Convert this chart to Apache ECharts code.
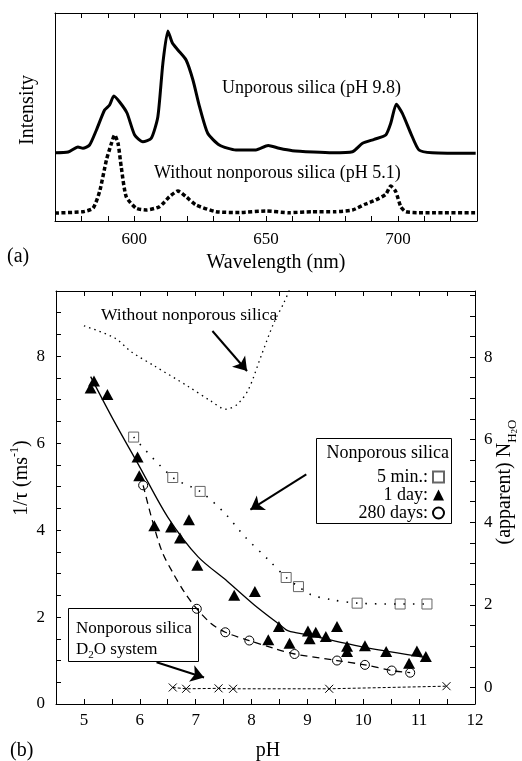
<!DOCTYPE html>
<html><head><meta charset="utf-8">
<script src="https://cdn.jsdelivr.net/npm/echarts@6/dist/echarts.min.js"></script>
<style>html,body{margin:0;padding:0;background:#fff}#c{width:522px;height:761px}</style>
</head><body><div id="c"></div>
<script>
const FONT = '"Liberation Serif", "Times New Roman", serif';

// ---------- panel (a): emission spectra ----------
const unporousWl  = [570, 575, 578.7, 580.6, 583.1, 585.7, 588.8, 590.7, 592.3, 594.5, 597.3, 600.2, 603.3, 606.5, 609.0, 610.9, 612.8, 614.5, 616.6, 619.7, 622.3, 624.8, 627.9, 632.3, 638.6, 646.2, 650.8, 655.0, 660.0, 668.0, 675.2, 682.8, 686.6, 691.0, 695.4, 697.3, 699.4, 701.7, 704.9, 708.0, 713.0, 729.5];
const unporousInt = [68.3, 69, 74, 72.7, 76, 91, 111, 116, 125, 119, 108, 86, 79.3, 82.7, 104.3, 157.7, 190, 178, 171, 161, 141, 114.3, 87.7, 76, 71, 71, 75.5, 72.7, 70.3, 69, 68.3, 69.3, 77.7, 81.7, 86, 97.7, 116.7, 107.7, 87.7, 71, 68.3, 67.7];
const noSilicaWl  = [570, 580.6, 584.4, 586.9, 589.5, 591.4, 592.6, 593.9, 595.1, 597.0, 600.8, 604.6, 609.6, 613.4, 616.6, 619.7, 623.5, 631.1, 640, 650, 658.8, 667.6, 676, 682.8, 687.8, 691.6, 695.4, 697.3, 699.2, 701.1, 703.0, 708, 713, 729.5];
const noSilicaInt = [8, 9.3, 12.7, 29.3, 61, 77.7, 86, 77.7, 54.3, 24.3, 12.7, 11, 14.3, 24.3, 30, 24.3, 16, 9.3, 8.5, 10, 8.3, 9.3, 9.3, 11, 17, 21, 26.7, 35, 29.3, 14.3, 9.3, 8.3, 8.3, 8.3];
const wlTickLabels = [600, 650, 700];

// ---------- panel (b): 1/tau vs pH ----------
const withoutPH   = [5.0, 5.55, 5.85, 6.27, 6.86, 7.27, 7.54, 7.75, 7.95, 8.17, 8.40, 8.58, 8.72];
const withoutRate = [8.70, 8.42, 8.10, 7.77, 7.31, 6.97, 6.78, 6.90, 7.25, 8.0, 8.77, 9.23, 9.65];

const min5PH   = [5.89, 6.59, 7.08, 8.62, 8.84, 9.89, 10.66, 11.14];
const min5Rate = [6.14, 5.21, 4.89, 2.91, 2.70, 2.32, 2.30, 2.30];
const min5FitPH   = [5.89, 6.59, 7.08, 7.52, 7.88, 8.30, 8.62, 8.84, 9.07, 9.43, 9.89, 10.66, 11.14];
const min5FitRate = [6.14, 5.21, 4.89, 4.39, 3.85, 3.32, 2.91, 2.70, 2.51, 2.40, 2.32, 2.30, 2.30];

const day1PH   = [5.12, 5.18, 5.42, 5.96, 5.99, 6.26, 6.56, 6.72, 6.88, 7.03, 7.69, 8.06, 8.30, 8.49, 8.68, 9.01, 9.04, 9.15, 9.33, 9.53, 9.71, 9.71, 10.03, 10.41, 10.82, 10.96, 11.12];
const day1Rate = [7.27, 7.43, 7.12, 5.68, 5.25, 4.10, 4.07, 3.82, 4.24, 3.19, 2.50, 2.59, 1.48, 1.78, 1.40, 1.68, 1.50, 1.65, 1.55, 1.78, 1.33, 1.21, 1.34, 1.21, 0.94, 1.22, 1.09];
const day1FitPH   = [5.12, 5.5, 6.0, 6.5, 7.04, 7.57, 8.05, 8.51, 8.66, 9.01, 10.03, 11.12];
const day1FitRate = [7.53, 6.6, 5.45, 4.3, 3.39, 2.82, 2.28, 1.82, 1.68, 1.59, 1.30, 1.07];

const day280PH   = [6.06, 7.02, 7.53, 7.96, 8.77, 9.53, 10.03, 10.51, 10.84];
const day280Rate = [5.03, 2.19, 1.65, 1.46, 1.15, 1.00, 0.90, 0.77, 0.72];
const day280FitPH   = [6.06, 6.22, 6.40, 6.60, 6.81, 7.02, 7.27, 7.53, 7.96, 8.40, 8.77, 9.53, 10.03, 10.51, 10.84];
const day280FitRate = [5.03, 4.24, 3.50, 3.00, 2.55, 2.19, 1.86, 1.65, 1.46, 1.28, 1.15, 1.00, 0.90, 0.77, 0.72];

const d2oPH   = [6.59, 6.83, 7.41, 7.67, 9.39, 11.49];
const d2oRate = [0.38, 0.35, 0.36, 0.35, 0.35, 0.41];

const phTickLabels   = [5, 6, 7, 8, 9, 10, 11, 12];
const rateTickLabels = [0, 2, 4, 6, 8];
const nh2oTickLabels = [0, 2, 4, 6, 8];

const zip = (a, b) => a.map((v, i) => [v, b[i]]);
const BLACK = '#000';
const lineSt = { onZero: false, lineStyle: { color: BLACK, width: 1 } };
const lbl = (extra) => Object.assign({ color: BLACK, fontFamily: FONT, fontSize: 17 }, extra);

const nh2oTicks = [];
for (let v = 0; v <= 9.5 + 1e-9; v += 0.5) nh2oTicks.push(+v.toFixed(1));

const chart = echarts.init(document.getElementById('c'), null, { renderer: 'canvas' });

const arrowML = (from, to) => ({
  silent: true, symbol: ['none', 'arrow'], symbolSize: 13, animation: false,
  label: { show: false }, emphasis: { disabled: true },
  itemStyle: { color: BLACK },
  lineStyle: { color: BLACK, width: 2, type: 'solid' },
  data: [[{ coord: from }, { coord: to }]]
});

const option = {
  animation: false,
  backgroundColor: '#fff',
  grid: [
    { left: 55, right: 45, top: 13, bottom: 540 },
    { left: 56, right: 47, top: 291, bottom: 57 }
  ],
  xAxis: [
    { gridIndex: 0, type: 'value', min: 570, max: 730, interval: 10, position: 'bottom',
      axisLine: lineSt, axisTick: { inside: true, length: 5, lineStyle: { color: BLACK } },
      axisLabel: lbl({ interval: 0, margin: 10, formatter: v => wlTickLabels.includes(v) ? String(v) : '' }),
      splitLine: { show: false } },
    { gridIndex: 0, type: 'value', min: 570, max: 730, interval: 10, position: 'top',
      axisLine: lineSt, axisTick: { inside: true, length: 5, lineStyle: { color: BLACK } },
      axisLabel: { show: false }, splitLine: { show: false } },
    { gridIndex: 1, type: 'value', min: 4.5, max: 12, interval: 0.5, position: 'bottom',
      axisLine: lineSt, axisTick: { inside: true, length: 5, lineStyle: { color: BLACK } },
      axisLabel: lbl({ interval: 0, margin: 8, formatter: v => phTickLabels.includes(v) ? String(v) : '' }),
      splitLine: { show: false } },
    { gridIndex: 1, type: 'value', min: 4.5, max: 12, interval: 0.5, position: 'top',
      axisLine: lineSt, axisTick: { inside: true, length: 5, lineStyle: { color: BLACK } },
      axisLabel: { show: false }, splitLine: { show: false } }
  ],
  yAxis: [
    { gridIndex: 0, type: 'value', min: 0, max: 208, position: 'left',
      axisLine: { show: true, onZero: false, lineStyle: { color: BLACK, width: 1 } }, axisTick: { show: false },
      axisLabel: { show: false }, splitLine: { show: false } },
    { gridIndex: 0, type: 'value', min: 0, max: 208, position: 'right',
      axisLine: { show: true, onZero: false, lineStyle: { color: BLACK, width: 1 } }, axisTick: { show: false },
      axisLabel: { show: false }, splitLine: { show: false } },
    { gridIndex: 1, type: 'value', min: 0, max: 9.5, interval: 0.5, position: 'left',
      axisLine: { show: true, onZero: false, lineStyle: { color: BLACK, width: 1 } },
      axisTick: { inside: true, length: 5, lineStyle: { color: BLACK } },
      axisLabel: lbl({ interval: 0, margin: 11, formatter: v => rateTickLabels.includes(v) ? String(v) : '' }),
      splitLine: { show: false } },
    { gridIndex: 1, type: 'value', min: -0.4, max: 9.6, position: 'right',
      axisLine: { show: true, onZero: false, lineStyle: { color: BLACK, width: 1 } },
      axisTick: { inside: true, length: 5, lineStyle: { color: BLACK }, customValues: nh2oTicks },
      axisLabel: lbl({ margin: 9, customValues: nh2oTickLabels, formatter: v => String(v) }),
      splitLine: { show: false } }
  ],
  legend: {
    orient: 'vertical', align: 'right', right: 77, top: 468, padding: 0, z: 50,
    itemWidth: 11, itemHeight: 11, itemGap: 0, selectedMode: false,
    textStyle: { color: BLACK, fontFamily: FONT, fontSize: 18, lineHeight: 17 },
    data: [
      { name: '5 min.:' },
      { name: '1 day:' },
      { name: '280 days:', itemStyle: { borderWidth: 2 } }
    ]
  },
  series: [
    { name: 'Unporous silica (pH 9.8)', type: 'line', xAxisIndex: 0, yAxisIndex: 0,
      data: zip(unporousWl, unporousInt), symbol: 'none', smooth: 0.2,
      lineStyle: { color: BLACK, width: 3 } },
    { name: 'Without nonporous silica (pH 5.1)', type: 'line', xAxisIndex: 0, yAxisIndex: 0,
      data: zip(noSilicaWl, noSilicaInt), symbol: 'none', smooth: 0.2,
      lineStyle: { color: BLACK, width: 3.5, type: [4, 2.5] } },

    { name: 'without-fit', type: 'line', xAxisIndex: 2, yAxisIndex: 2, clip: true,
      data: zip(withoutPH, withoutRate), symbol: 'none', smooth: 0.3,
      lineStyle: { color: BLACK, width: 1.3, type: [1.5, 4] },
      markLine: arrowML([7.30, 8.58], [7.92, 7.66]) },
    { name: '5min-fit', type: 'line', xAxisIndex: 2, yAxisIndex: 2,
      data: zip(min5FitPH, min5FitRate), symbol: 'none', smooth: 0.3,
      lineStyle: { color: BLACK, width: 1.6, type: [1.5, 8] },
      markLine: arrowML([8.98, 5.28], [7.98, 4.47]) },
    { name: '1day-fit', type: 'line', xAxisIndex: 2, yAxisIndex: 2,
      data: zip(day1FitPH, day1FitRate), symbol: 'none', smooth: 0.3,
      lineStyle: { color: BLACK, width: 1.3 } },
    { name: '280d-fit', type: 'line', xAxisIndex: 2, yAxisIndex: 2,
      data: zip(day280FitPH, day280FitRate), symbol: 'none', smooth: 0.3,
      lineStyle: { color: BLACK, width: 1.3, type: [7, 5] } },
    { name: 'D2O', type: 'line', xAxisIndex: 2, yAxisIndex: 2,
      data: zip(d2oPH, d2oRate), symbol: 'path://M0,0L10,10M10,0L0,10', symbolSize: 8, showSymbol: true,
      itemStyle: { color: BLACK, borderColor: BLACK, borderWidth: 1, opacity: 1 },
      lineStyle: { color: BLACK, width: 1, type: [3, 2] },
      markLine: arrowML([6.30, 0.96], [7.15, 0.61]) },

    { name: '5 min.:', type: 'scatter', xAxisIndex: 2, yAxisIndex: 2,
      data: zip(min5PH, min5Rate), symbol: 'rect', symbolSize: 10,
      itemStyle: { color: 'rgba(255,255,255,0)', borderColor: '#666', borderWidth: 1, opacity: 1 } },
    { name: '1 day:', type: 'scatter', xAxisIndex: 2, yAxisIndex: 2,
      data: zip(day1PH, day1Rate), symbol: 'triangle', symbolSize: [12, 11],
      itemStyle: { color: BLACK, opacity: 1 } },
    { name: '280 days:', type: 'scatter', xAxisIndex: 2, yAxisIndex: 2,
      data: zip(day280PH, day280Rate), symbol: 'circle', symbolSize: 9,
      itemStyle: { color: 'rgba(255,255,255,0)', borderColor: BLACK, borderWidth: 1, opacity: 1 } }
  ],
  graphic: [
    { type: 'text', x: 28, y: 110, rotation: Math.PI / 2, z: 100,
      style: { text: 'Intensity', fontFamily: FONT, fontSize: 20, fill: BLACK, align: 'center', verticalAlign: 'middle' } },
    { type: 'text', x: 276, y: 263, z: 100,
      style: { text: 'Wavelength (nm)', fontFamily: FONT, fontSize: 20, fill: BLACK, align: 'center', verticalAlign: 'middle' } },
    { type: 'text', x: 7, y: 257, z: 100,
      style: { text: '(a)', fontFamily: FONT, fontSize: 20, fill: BLACK, align: 'left', verticalAlign: 'middle' } },
    { type: 'text', x: 222, y: 88, z: 100,
      style: { text: 'Unporous silica (pH 9.8)', fontFamily: FONT, fontSize: 18, fill: BLACK, align: 'left', verticalAlign: 'middle' } },
    { type: 'text', x: 154, y: 173, z: 100,
      style: { text: 'Without nonporous silica (pH 5.1)', fontFamily: FONT, fontSize: 18, fill: BLACK, align: 'left', verticalAlign: 'middle' } },

    { type: 'text', x: 101, y: 315, z: 100,
      style: { text: 'Without nonporous silica', fontFamily: FONT, fontSize: 17.5, fill: BLACK, align: 'left', verticalAlign: 'middle' } },
    { type: 'text', x: 268, y: 751, z: 100,
      style: { text: 'pH', fontFamily: FONT, fontSize: 20, fill: BLACK, align: 'center', verticalAlign: 'middle' } },
    { type: 'text', x: 10, y: 751, z: 100,
      style: { text: '(b)', fontFamily: FONT, fontSize: 20, fill: BLACK, align: 'left', verticalAlign: 'middle' } },
    { type: 'text', x: 22, y: 478, rotation: Math.PI / 2, z: 100,
      style: { text: '{a|1/τ (ms}{s|-1}{a|)}', align: 'center', verticalAlign: 'middle', fill: BLACK,
        rich: { a: { fontFamily: FONT, fontSize: 20, lineHeight: 26, fill: BLACK },
                s: { fontFamily: FONT, fontSize: 12, lineHeight: 12, verticalAlign: 'top', fill: BLACK } } } },
    { type: 'text', x: 505, y: 482, rotation: Math.PI / 2, z: 100,
      style: { text: '{a|(apparent) N}{b|H}{c|2}{b|O}', align: 'center', verticalAlign: 'middle', fill: BLACK,
        rich: { a: { fontFamily: FONT, fontSize: 20, lineHeight: 28, fill: BLACK },
                b: { fontFamily: FONT, fontSize: 13, lineHeight: 16, verticalAlign: 'bottom', fill: BLACK },
                c: { fontFamily: FONT, fontSize: 9, lineHeight: 9, verticalAlign: 'bottom', fill: BLACK } } } },

    { type: 'rect', z: 0, shape: { x: 316.5, y: 438.5, width: 135, height: 85 },
      style: { fill: '#fff', stroke: BLACK, lineWidth: 1 } },
    { type: 'text', x: 449, y: 453, z: 100,
      style: { text: 'Nonporous silica', fontFamily: FONT, fontSize: 18, fill: BLACK, align: 'right', verticalAlign: 'middle' } },

    { type: 'rect', z: 0, shape: { x: 68.5, y: 608.5, width: 130, height: 53 },
      style: { fill: '#fff', stroke: BLACK, lineWidth: 1 } },
    { type: 'text', x: 76, y: 629, z: 100,
      style: { text: 'Nonporous silica', fontFamily: FONT, fontSize: 17, fill: BLACK, align: 'left', verticalAlign: 'middle' } },
    { type: 'text', x: 76, y: 650, z: 100,
      style: { text: '{a|D}{b|2}{a|O system}', align: 'left', verticalAlign: 'middle', fill: BLACK,
        rich: { a: { fontFamily: FONT, fontSize: 17, lineHeight: 22, fill: BLACK },
                b: { fontFamily: FONT, fontSize: 11, lineHeight: 12, verticalAlign: 'bottom', fill: BLACK } } } }
  ]
};
chart.setOption(option);
</script>
</body></html>
